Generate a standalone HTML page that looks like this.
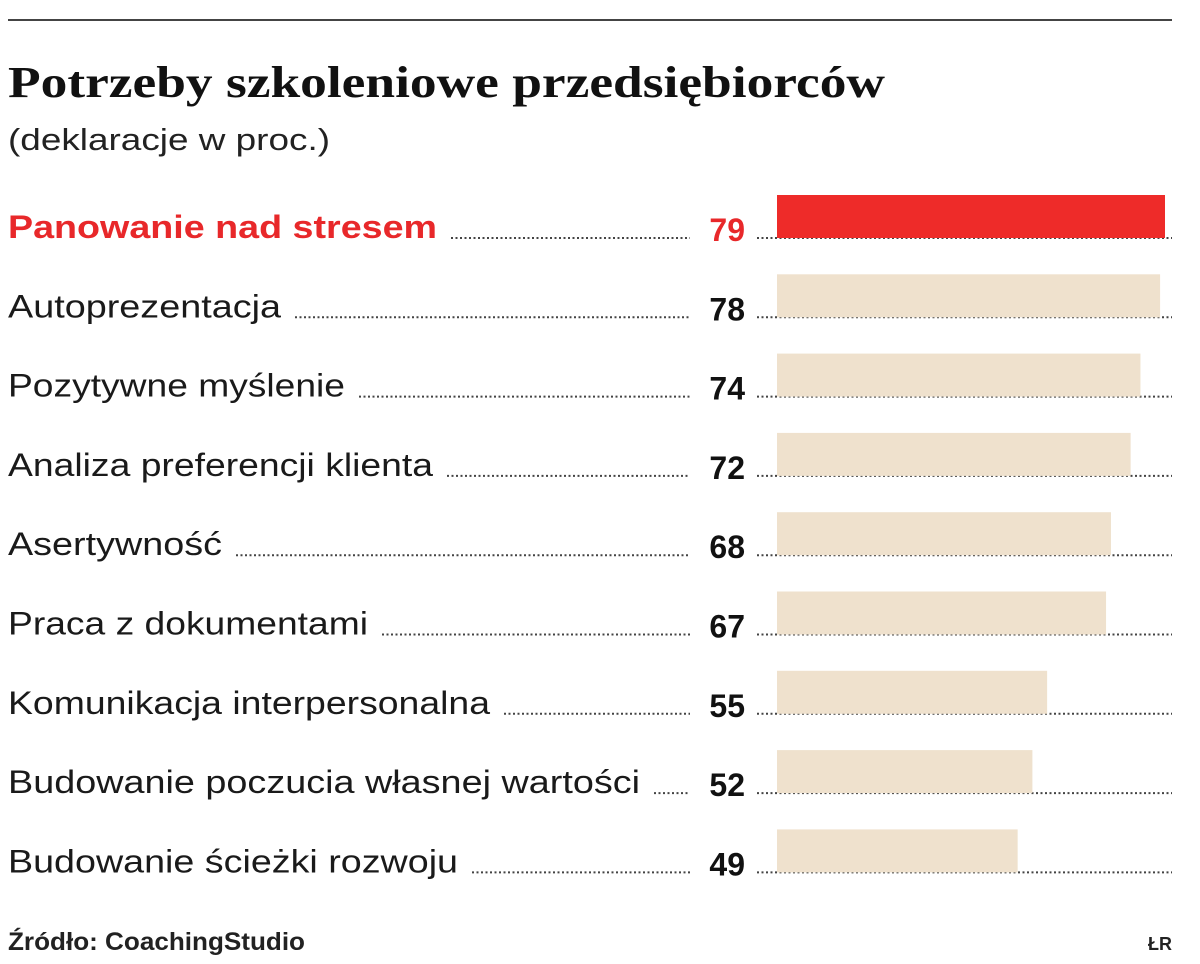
<!DOCTYPE html>
<html><head><meta charset="utf-8"><style>
html,body{margin:0;padding:0;background:#fff;}
svg{display:block;font-family:"Liberation Sans",sans-serif;}
</style></head><body>
<svg id="chart" width="1200" height="964">
<line x1="8" y1="20" x2="1172" y2="20" stroke="#444" stroke-width="2"/>
<text x="8" y="97" font-family="Liberation Serif, serif" font-weight="bold" font-size="44" fill="#111" textLength="877" lengthAdjust="spacingAndGlyphs">Potrzeby szkoleniowe przedsiębiorców</text>
<text x="8" y="150" font-size="31" fill="#222" textLength="322" lengthAdjust="spacingAndGlyphs">(deklaracje w proc.)</text>
<g id="rows"></g>
<text x="8" y="950" font-size="25" font-weight="bold" fill="#222" textLength="297" lengthAdjust="spacingAndGlyphs">Źródło: CoachingStudio</text>
<text x="1172" y="950" font-size="18" font-weight="bold" fill="#222" text-anchor="end">ŁR</text>
</svg>
<script>
const categories = ["Panowanie nad stresem","Autoprezentacja","Pozytywne myślenie","Analiza preferencji klienta","Asertywność","Praca z dokumentami","Komunikacja interpersonalna","Budowanie poczucia własnej wartości","Budowanie ścieżki rozwoju"];
const values = [79,78,74,72,68,67,55,52,49];
const labelWidths = [429,273,337,425,214,360,482,632,450];

const NS="http://www.w3.org/2000/svg";
const g=document.getElementById('rows');
const x0=777, scale=388/79;
const xScale=v=>v*scale;
const rowY=i=>238+i*79.3;
function mk(tag,attrs){const e=document.createElementNS(NS,tag);for(const k in attrs)e.setAttribute(k,attrs[k]);g.appendChild(e);return e;}
categories.forEach((c,i)=>{
  const y=rowY(i), hl=i===0;
  const t=mk('text',{x:8,y:y,'font-size':32,fill:hl?'#e8282a':'#1a1a1a','font-weight':hl?'bold':'normal',textLength:labelWidths[i],lengthAdjust:'spacingAndGlyphs'});
  
  
  t.textContent=c;
  const d1=mk('line',{x1:8+labelWidths[i]+14,y1:y,x2:690,y2:y,stroke:'#444','stroke-width':2,'stroke-dasharray':'2 2.5'});
  
  
  const v=mk('text',{x:745,y:y+3,'font-size':32,'font-weight':'bold','text-anchor':'end',fill:hl?'#e8282a':'#111'});
  
  
  v.textContent=values[i];
  const d2=mk('line',{x1:757,y1:y,x2:1172,y2:y,stroke:'#444','stroke-width':2,'stroke-dasharray':'2 2.5'});
  
  
  const b=mk('rect',{x:x0,y:y-43,width:xScale(values[i]),height:43,fill:hl?'#ee2b29':'#efe1cd'});
  
  
});
</script>
</body></html>
